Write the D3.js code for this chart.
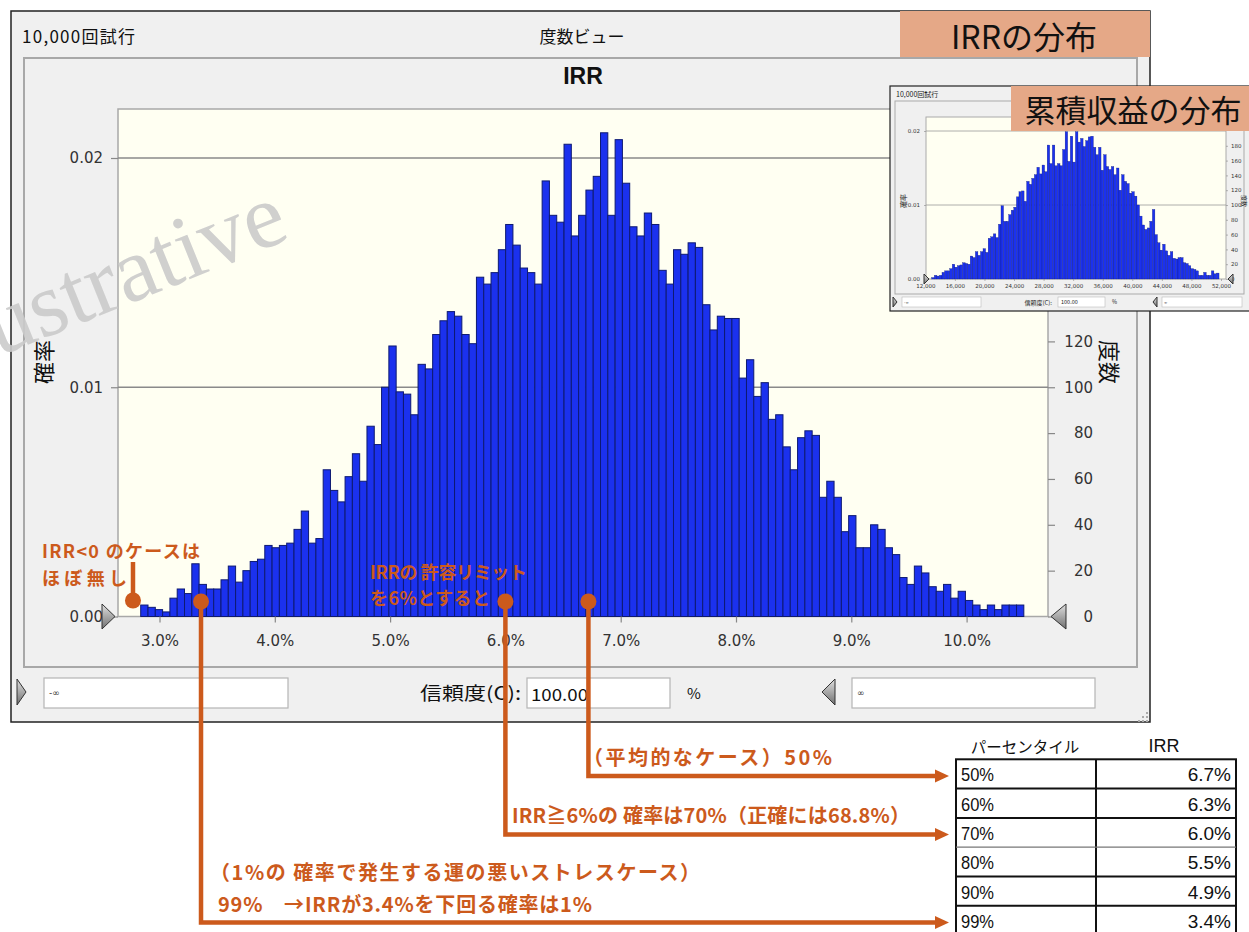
<!DOCTYPE html>
<html><head><meta charset="utf-8">
<script src="https://cdn.jsdelivr.net/npm/d3@7"></script>
<style>body{margin:0;background:#fff;} svg{display:block;}</style>
</head><body>
<svg id="c" width="1249" height="932"></svg>
<script>
// ---------------- DATA ----------------
const trials = 10000;
const irrBinStart = 2.837;      // % (left edge of first bin)
const irrBinWidth = 0.0633;     // %
const irrCounts = [5,4,3,2,8,12,10,23,14,12,12,16,22,15,20,24,25,31,30,31,32,38,46,32,34,64,55,50,61,71,59,83,75,100,118,
  98,97,88,110,108,123,129,133,131,123,119,148,145,150,160,171,162,152,150,145,190,175,172,206,166,175,186,192,211,175,208,189,170,166,176,171,151,145,160,
  158,163,161,136,125,131,130,130,104,112,96,102,86,88,74,64,78,81,79,52,59,52,37,44,30,30,40,38,30,27,17,14,22,19,13,11,14,8,11,7,5,3,5,3,5,5,5];
const probTicks = [0, 0.01, 0.02];
const probTickLabels = ["0.00", "0.01", "0.02"];
const freqTicks = [0, 20, 40, 60, 80, 100, 120];
const irrTicks = [3, 4, 5, 6, 7, 8, 9, 10];
const irrTickLabels = ["3.0%", "4.0%", "5.0%", "6.0%", "7.0%", "8.0%", "9.0%", "10.0%"];

const profitBinStart = 12870;
const profitBinWidth = 347;
const profitCounts = [2,5,4,5,9,11,11,14,20,16,18,19,22,21,20,31,29,37,32,37,41,36,55,57,61,56,74,99,78,78,87,93,97,111,118,119,105,132,128,136,141,151,142,154,145,181,156,181,153,156,153,175,199,159,
  193,158,199,185,190,179,187,192,193,178,168,178,147,168,152,148,152,141,150,120,141,132,129,116,118,112,100,85,73,67,69,78,94,60,49,39,47,38,32,37,28,27,29,29,22,21,18,14,13,11,5,5,9,5,5,11,7,8];
const profitTicks = [12000, 16000, 20000, 24000, 28000, 32000, 36000, 40000, 44000, 48000, 52000];
const profitTickLabels = ["12,000","16,000","20,000","24,000","28,000","32,000","36,000","40,000","44,000","48,000","52,000"];
const insetFreqTicks = [0,20,40,60,80,100,120,140,160,180];

const percentiles = ["50%", "60%", "70%", "80%", "90%", "99%"];
const percentileIRR = ["6.7%", "6.3%", "6.0%", "5.5%", "4.9%", "3.4%"];

const pinIRR = 2.77;                       // IRR<0 marker
const callouts = [{irr: 6.72, row: 0}, {irr: 6.0, row: 2}, {irr: 3.36, row: 5}];
const upperNotes = ["IRR<0 のケースは", "ほぼ無し", "IRRの 許容リミット", "を6%とすると"];
const lowerNotes = ["（平均的なケース）50%", "IRR≧6%の 確率は70%（正確には68.8%）", "（1%の 確率で発生する運の悪いストレスケース）", "99%　→IRRが3.4%を下回る確率は1%"];

// ---------------- DRAW ----------------
const svg = d3.select("#c");
const ORANGE = "#cc5a1c", PEACH = "#e5a887", BG = "#f0f0f0", PLOTBG = "#fffff2";
const BAR = "#1b31ee", BAROUT = "#0e1a72";
const CJK = "'Noto Sans CJK JP', sans-serif";
const SANS = "'DejaVu Sans', sans-serif";

const defs = svg.append("defs");
const g1 = defs.append("linearGradient").attr("id","tri").attr("x1",0).attr("y1",0).attr("x2",0).attr("y2",1);
g1.append("stop").attr("offset","0%").attr("stop-color","#e0e0e0");
g1.append("stop").attr("offset","100%").attr("stop-color","#707070");

function tri(sel, pts){ sel.append("polygon").attr("points", pts.map(p=>p.join(",")).join(" ")).attr("fill","url(#tri)").attr("stroke","#333").attr("stroke-width",1); }

// outer window
svg.append("rect").attr("x",11).attr("y",11).attr("width",1139).attr("height",711).attr("fill",BG).attr("stroke","#222").attr("stroke-width",1.5);
svg.append("text").attr("x",22).attr("y",35).attr("dominant-baseline","central").attr("font-family",CJK).attr("font-size",17).attr("textLength",113).attr("fill","#111").text("10,000回試行");
svg.append("text").attr("x",582).attr("y",35).attr("text-anchor","middle").attr("dominant-baseline","central").attr("font-family",CJK).attr("font-size",17).attr("fill","#111").text("度数ビュー");

// inner panel
svg.append("rect").attr("x",24).attr("y",58).attr("width",1113).attr("height",609).attr("fill","none").attr("stroke","#a8a8a8").attr("stroke-width",2);
svg.append("text").attr("x",583).attr("y",76).attr("text-anchor","middle").attr("dominant-baseline","central").attr("font-family","'Liberation Sans', Arial, sans-serif").attr("font-weight","bold").attr("font-size",23).attr("fill","#111").text("IRR");

// scales
const x = d3.scaleLinear().domain([2.640, 10.706]).range([118, 1048]);
const y = d3.scaleLinear().domain([0, 0.02]).range([616.5, 158]);
const yCount = d3.scaleLinear().domain([0, 0.02 * trials]).range([616.5, 158]);
const plotTop = 109;

// plot bg
svg.append("rect").attr("x",118).attr("y",plotTop).attr("width",930).attr("height",616.5-plotTop).attr("fill",PLOTBG).attr("stroke","#a8a8a8").attr("stroke-width",1.5);

// watermark
svg.append("text").attr("transform","translate(292,238) rotate(-22)").attr("text-anchor","end")
  .attr("font-family","'Liberation Serif', serif").attr("font-size",92).attr("fill","#cbcbcb").attr("opacity",0.9).text("Illustrative");

// gridlines
svg.append("g").selectAll("line").data(probTicks.filter(d=>d>0)).join("line")
  .attr("x1",118).attr("x2",1048).attr("y1",d=>y(d)).attr("y2",d=>y(d)).attr("stroke","#8a8a8a").attr("stroke-width",1.5);

// bars
svg.append("g").selectAll("rect").data(irrCounts).join("rect")
  .attr("x",(d,i)=>x(irrBinStart+i*irrBinWidth))
  .attr("width",(d,i)=>x(irrBinStart+(i+1)*irrBinWidth)-x(irrBinStart+i*irrBinWidth))
  .attr("y",d=>y(d/trials)).attr("height",d=>y(0)-y(d/trials))
  .attr("fill",BAR).attr("stroke",BAROUT).attr("stroke-width",1);

// axes
const ax = svg.append("g").attr("transform","translate(118,0)")
  .call(d3.axisLeft(y).tickValues(probTicks).tickFormat((d,i)=>probTickLabels[i]).tickSize(7).tickPadding(8));
const ar = svg.append("g").attr("transform","translate(1048,0)")
  .call(d3.axisRight(yCount).tickValues(freqTicks).tickSize(7).tickPadding(3));
ar.selectAll("text").attr("text-anchor","end").attr("x",45);
const ab = svg.append("g").attr("transform","translate(0,616.5)")
  .call(d3.axisBottom(x).tickValues(irrTicks).tickFormat((d,i)=>irrTickLabels[i]).tickSize(6).tickPadding(13));
[ax,ar,ab].forEach(a=>{ a.select(".domain").remove(); a.selectAll("line").attr("stroke","#888").attr("stroke-width",1.2);
  a.selectAll("text").attr("font-family",SANS).attr("font-size",15).attr("fill","#333"); });

// axis titles
svg.append("text").attr("transform","translate(42,362) rotate(-90)").attr("text-anchor","middle").attr("dominant-baseline","central").attr("font-family",CJK).attr("font-size",22).attr("fill","#111").text("確率");
svg.append("text").attr("transform","translate(1111,362) rotate(90)").attr("text-anchor","middle").attr("dominant-baseline","central").attr("font-family",CJK).attr("font-size",22).attr("fill","#111").text("度数");

// range triangles
tri(svg, [[102,604],[115,616.5],[102,629]]);
tri(svg, [[1066,604],[1051,616.5],[1066,629]]);

// bottom controls
tri(svg, [[17,679],[26,692],[17,705]]);
tri(svg, [[835,679],[822,692],[835,705]]);
[[44,244],[527,143],[852,243]].forEach(([bx,bw])=>svg.append("rect").attr("x",bx).attr("y",678).attr("width",bw).attr("height",30).attr("fill","#fff").attr("stroke","#b5b5b5").attr("stroke-width",1.2));
svg.append("text").attr("x",49).attr("y",693).attr("dominant-baseline","central").attr("font-family",SANS).attr("font-size",9).attr("fill","#333").text("-∞");
svg.append("text").attr("x",857).attr("y",693).attr("dominant-baseline","central").attr("font-family",SANS).attr("font-size",9).attr("fill","#333").text("∞");
svg.append("text").attr("x",420).attr("y",692).attr("dominant-baseline","central").attr("font-family",CJK).attr("font-size",18).attr("textLength",101).attr("lengthAdjust","spacingAndGlyphs").attr("fill","#111").text("信頼度(C):");
svg.append("text").attr("x",531).attr("y",693).attr("dominant-baseline","central").attr("font-family",CJK).attr("font-size",17).attr("textLength",57).attr("lengthAdjust","spacingAndGlyphs").attr("fill","#111").text("100.00");
svg.append("text").attr("x",694).attr("y",692).attr("text-anchor","middle").attr("dominant-baseline","central").attr("font-family",CJK).attr("font-size",15).attr("fill","#111").text("%");
// resize grip
[[1146,712],[1146,716],[1142,716],[1146,720],[1142,720],[1138,720]].forEach(([gx,gy])=>svg.append("rect").attr("x",gx).attr("y",gy).attr("width",2).attr("height",2).attr("fill","#aaa"));

// title tag
svg.append("rect").attr("x",900).attr("y",11).attr("width",250).attr("height",46).attr("fill",PEACH);
svg.append("text").attr("x",1024).attr("y",35).attr("text-anchor","middle").attr("dominant-baseline","central").attr("font-family",CJK).attr("font-size",32).attr("fill","#111").text("IRRの分布");

// ---------------- INSET ----------------
const ins = svg.append("g");
ins.append("rect").attr("x",890).attr("y",86).attr("width",370).attr("height",225).attr("fill",BG).attr("stroke","#222").attr("stroke-width",1.2);
ins.append("rect").attr("x",895).attr("y",101).attr("width",349).attr("height",193).attr("fill","none").attr("stroke","#aaa").attr("stroke-width",1);
ins.append("text").attr("x",896).attr("y",94).attr("dominant-baseline","central").attr("font-family",CJK).attr("font-size",7).attr("fill","#222").text("10,000回試行");
const xi = d3.scaleLinear().domain([12000, 52000]).range([925.3, 1221]);
const yi = d3.scaleLinear().domain([0, 0.02]).range([279, 131]);
const yiC = d3.scaleLinear().domain([0, 0.02*trials]).range([279, 131]);
ins.append("rect").attr("x",926).attr("y",117).attr("width",300).attr("height",162).attr("fill",PLOTBG).attr("stroke","#aaa").attr("stroke-width",1);
ins.append("g").selectAll("line").data(probTicks.filter(d=>d>0)).join("line")
  .attr("x1",926).attr("x2",1226).attr("y1",d=>yi(d)).attr("y2",d=>yi(d)).attr("stroke","#999").attr("stroke-width",0.8);
ins.append("g").selectAll("rect").data(profitCounts).join("rect")
  .attr("x",(d,i)=>xi(profitBinStart+i*profitBinWidth))
  .attr("width",(d,i)=>xi(profitBinStart+(i+1)*profitBinWidth)-xi(profitBinStart+i*profitBinWidth))
  .attr("y",d=>yi(d/trials)).attr("height",d=>yi(0)-yi(d/trials))
  .attr("fill",BAR).attr("stroke",BAROUT).attr("stroke-width",0.3);
const iax = ins.append("g").attr("transform","translate(926,0)").call(d3.axisLeft(yi).tickValues(probTicks).tickFormat((d,i)=>probTickLabels[i]).tickSize(2).tickPadding(4));
const iar = ins.append("g").attr("transform","translate(1226,0)").call(d3.axisRight(yiC).tickValues(insetFreqTicks).tickSize(2).tickPadding(3));
const iab = ins.append("g").attr("transform","translate(0,279)").call(d3.axisBottom(xi).tickValues(profitTicks).tickFormat((d,i)=>profitTickLabels[i]).tickSize(2).tickPadding(3));
[iax,iar,iab].forEach(a=>{ a.select(".domain").remove(); a.selectAll("line").attr("stroke","#888").attr("stroke-width",0.6);
  a.selectAll("text").attr("font-family",SANS).attr("font-size",5.5).attr("fill","#333"); });
ins.append("text").attr("transform","translate(903,201) rotate(-90)").attr("text-anchor","middle").attr("dominant-baseline","central").attr("font-family",CJK).attr("font-size",7).attr("fill","#222").text("確率");
ins.append("text").attr("transform","translate(1244,201) rotate(90)").attr("text-anchor","middle").attr("dominant-baseline","central").attr("font-family",CJK).attr("font-size",6).attr("fill","#222").text("度数");
tri(ins, [[924,274],[929,279],[924,284]]);
tri(ins, [[1233,274],[1228,279],[1233,284]]);
tri(ins, [[893,297],[897,302],[893,307]]);
tri(ins, [[1157,297],[1153,302],[1157,307]]);
[[902,79],[1058,47],[1162,80]].forEach(([bx,bw])=>ins.append("rect").attr("x",bx).attr("y",297).attr("width",bw).attr("height",10).attr("fill","#fff").attr("stroke","#bbb").attr("stroke-width",0.6));
ins.append("text").attr("x",904).attr("y",302).attr("dominant-baseline","central").attr("font-family",SANS).attr("font-size",4).attr("fill","#333").text("-∞");
ins.append("text").attr("x",1164).attr("y",302).attr("dominant-baseline","central").attr("font-family",SANS).attr("font-size",4).attr("fill","#333").text("∞");
ins.append("text").attr("x",1052).attr("y",302).attr("text-anchor","end").attr("dominant-baseline","central").attr("font-family",CJK).attr("font-size",6).attr("fill","#222").text("信頼度(C):");
ins.append("text").attr("x",1061).attr("y",302).attr("dominant-baseline","central").attr("font-family",CJK).attr("font-size",5.5).attr("fill","#222").text("100.00");
ins.append("text").attr("x",1112).attr("y",302).attr("dominant-baseline","central").attr("font-family",CJK).attr("font-size",5.5).attr("fill","#222").text("%");
ins.append("rect").attr("x",1011).attr("y",86).attr("width",238).attr("height",45).attr("fill",PEACH);
ins.append("text").attr("x",1133).attr("y",108).attr("text-anchor","middle").attr("dominant-baseline","central").attr("font-family",CJK).attr("font-size",31).attr("fill","#111").text("累積収益の分布");

// ---------------- TABLE ----------------
const tblX = 956, tblW = 280, colX = 1096, tblTop = 759.3, rowH = 29.3;
svg.append("text").attr("x",1025).attr("y",746).attr("text-anchor","middle").attr("dominant-baseline","central").attr("font-family",CJK).attr("font-size",15.5).attr("fill","#111").text("パーセンタイル");
svg.append("text").attr("x",1164).attr("y",746).attr("text-anchor","middle").attr("dominant-baseline","central").attr("font-family","'Liberation Sans', Arial, sans-serif").attr("font-size",18).attr("fill","#111").text("IRR");
svg.append("rect").attr("x",tblX).attr("y",tblTop).attr("width",tblW).attr("height",rowH*6+4).attr("fill","#fff").attr("stroke","#111").attr("stroke-width",2);
svg.append("line").attr("x1",colX).attr("x2",colX).attr("y1",tblTop).attr("y2",tblTop+rowH*6+4).attr("stroke","#111").attr("stroke-width",2);
d3.range(1,6).forEach(r=>svg.append("line").attr("x1",tblX).attr("x2",tblX+tblW).attr("y1",tblTop+r*rowH).attr("y2",tblTop+r*rowH).attr("stroke",r===3?"#777":"#111").attr("stroke-width",r===3?1.2:2));
const TFONT = "'Liberation Sans Narrow', 'Liberation Sans', Arial, sans-serif";
percentiles.forEach((p,i)=>{
  svg.append("text").attr("x",961).attr("y",tblTop+rowH*i+rowH/2+1).attr("dominant-baseline","central").attr("font-family",TFONT).attr("font-size",19).attr("textLength",33).attr("lengthAdjust","spacingAndGlyphs").attr("fill","#111").text(p);
  svg.append("text").attr("x",1231).attr("y",tblTop+rowH*i+rowH/2+1).attr("text-anchor","end").attr("dominant-baseline","central").attr("font-family",TFONT).attr("font-size",19).attr("fill","#111").text(percentileIRR[i]);
});

// ---------------- ANNOTATIONS ----------------
const ann = svg.append("g");
const markerY = 601.5;
// upper notes
const upPos = [[42,550,158],[42,577,85],[370,571,157],[370,597,120]];
upperNotes.forEach((t,i)=>ann.append("text").attr("x",upPos[i][0]).attr("y",upPos[i][1]).attr("dominant-baseline","central")
  .attr("font-family",CJK).attr("font-weight","bold").attr("font-size",18).attr("fill",ORANGE).attr("textLength",upPos[i][2]).text(t));
// pin
ann.append("line").attr("x1",x(pinIRR)).attr("x2",x(pinIRR)).attr("y1",562).attr("y2",markerY).attr("stroke",ORANGE).attr("stroke-width",4.5);
ann.append("circle").attr("cx",x(pinIRR)).attr("cy",markerY-1).attr("r",8).attr("fill",ORANGE);
// callouts
const tipX = 949;
const line = d3.line();
callouts.forEach(c=>{
  const cx = x(c.irr), ry = tblTop + rowH*c.row + rowH/2 + 2;
  ann.append("path").attr("d",line([[cx,markerY],[cx,ry],[tipX-12,ry]])).attr("fill","none").attr("stroke",ORANGE).attr("stroke-width",4.5).attr("stroke-linejoin","miter");
  ann.append("polygon").attr("points",`${tipX},${ry} ${tipX-14},${ry-6.5} ${tipX-14},${ry+6.5}`).attr("fill",ORANGE);
  ann.append("circle").attr("cx",cx).attr("cy",markerY).attr("r",8).attr("fill",ORANGE);
});
// lower notes
const lowPos = [[583,756,249],[512,814,398],[210,871,490],[218,903,374]];
lowerNotes.forEach((t,i)=>ann.append("text").attr("x",lowPos[i][0]).attr("y",lowPos[i][1]).attr("dominant-baseline","central")
  .attr("font-family",CJK).attr("font-weight","bold").attr("font-size",20).attr("fill",ORANGE).attr("textLength",lowPos[i][2]).text(t));
</script>
</body></html>
